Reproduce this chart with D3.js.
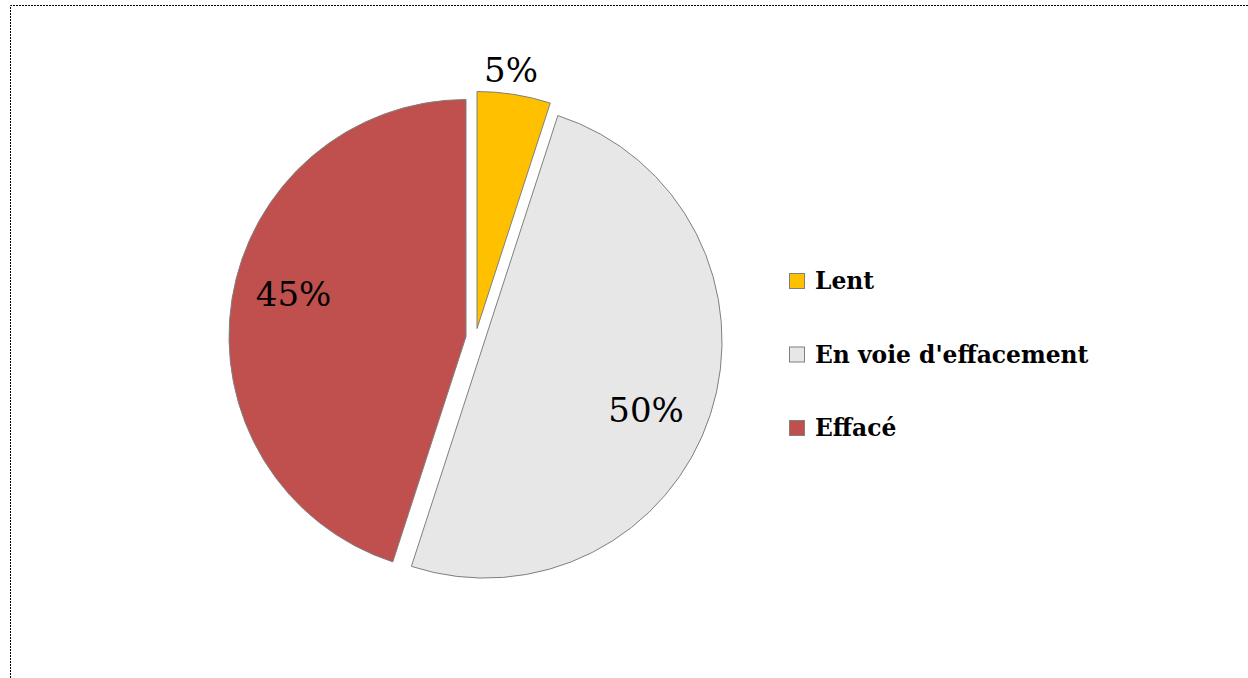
<!DOCTYPE html>
<html>
<head>
<meta charset="utf-8">
<script src="https://cdn.jsdelivr.net/npm/d3@7"></script>
<style>
  body { margin: 0; background: #fff; }
</style>
</head>
<body>
<svg width="1248" height="678"></svg>
<script>
var categories = ["Lent", "En voie d'effacement", "Effacé"];
var values = [5, 50, 45];
var colors = ["#FFC000", "#E7E7E7", "#C0504D"];

var svg = d3.select("svg"),
    width = +svg.attr("width"),
    height = +svg.attr("height");

// dotted frame, top and left only
svg.append("path")
    .attr("d", "M10.5,678 L10.5,5.5 L1248,5.5")
    .attr("fill", "none")
    .attr("stroke", "#000")
    .attr("stroke-dasharray", "2,1");

var cx = 475.5, cy = 338, radius = 237, explode = 9.6;

var pie = d3.pie().sort(null).value(function (d) { return d; });
var arc = d3.arc().innerRadius(0).outerRadius(radius);
var arcs = pie(values);

function polar(a, k) {
    return [Math.sin(a) * k, -Math.cos(a) * k];
}
function mid(d) { return (d.startAngle + d.endAngle) / 2; }

var g = svg.append("g").attr("transform", "translate(" + cx + "," + cy + ")");

var slice = g.selectAll("g.slice")
    .data(arcs)
    .enter().append("g")
    .attr("class", "slice")
    .attr("transform", function (d) { var o = polar(mid(d), explode); return "translate(" + o[0] + "," + o[1] + ")"; });

slice.append("path")
    .attr("d", arc)
    .attr("fill", function (d, i) { return colors[i]; })
    .attr("stroke", "#7f7f7f")
    .attr("stroke-width", 1);

// label placement: extra angle (deg) and radius share
var labelTurn = [-1.5, 5, 5];
var labelPos = [1.1, 0.74, 0.75];

slice.append("text")
    .attr("x", function (d, i) { return polar(mid(d) + labelTurn[i] * Math.PI / 180, radius * labelPos[i])[0]; })
    .attr("y", function (d, i) { return polar(mid(d) + labelTurn[i] * Math.PI / 180, radius * labelPos[i])[1]; })
    .attr("dy", "0.36em")
    .attr("text-anchor", "middle")
    .attr("font-family", "'DejaVu Serif', serif")
    .attr("font-size", 34)
    .attr("fill", "#000")
    .text(function (d) { return d3.format(".0%")(d.value / d3.sum(values)); });

var legend = svg.append("g").attr("transform", "translate(789,281)");

var item = legend.selectAll("g")
    .data(categories)
    .enter().append("g")
    .attr("transform", function (d, i) { return "translate(0," + i * 73.5 + ")"; });

item.append("rect")
    .attr("x", 0.5)
    .attr("y", -7.5)
    .attr("width", 15)
    .attr("height", 15)
    .attr("fill", function (d, i) { return colors[i]; })
    .attr("stroke", "#7f7f7f");

item.append("text")
    .attr("x", 26)
    .attr("y", 0)
    .attr("dy", "0.36em")
    .attr("font-family", "'DejaVu Serif', serif")
    .attr("font-weight", "bold")
    .attr("font-size", 23.4)
    .attr("fill", "#000")
    .text(function (d) { return d; });
</script>
</body>
</html>
